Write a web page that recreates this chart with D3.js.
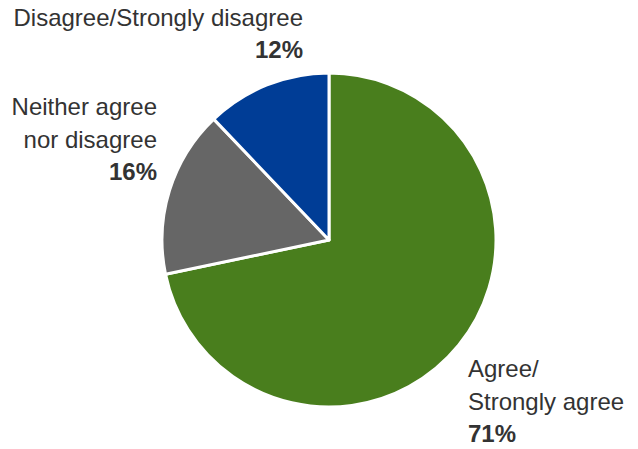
<!DOCTYPE html>
<html>
<head>
<meta charset="utf-8">
<script src="https://cdn.jsdelivr.net/npm/d3@7"></script>
<style>
  html, body { margin: 0; padding: 0; background: #fff; }
  svg { display: block; }
  text { font-family: "Liberation Sans", Arial, Helvetica, sans-serif; fill: #333; }
</style>
</head>
<body>
<svg id="chart" width="638" height="449"></svg>
<script>
// Survey response shares (percent)
const categories = ["Agree/Strongly agree", "Neither agree nor disagree", "Disagree/Strongly disagree"];
const values = [71, 16, 12];
const colors = ["#497e1d", "#666666", "#003d96"];
// Label lines per slice
const labelLines = [["Agree/", "Strongly agree"], ["Neither agree", "nor disagree"], ["Disagree/Strongly disagree"]];
const valueLabels = ["71%", "16%", "12%"];

const width = 638, height = 449;
const cx = 329, cy = 240, radius = 167;

const svg = d3.select("#chart");
const data = categories.map((c, i) => ({ category: c, value: values[i], color: colors[i], lines: labelLines[i], label: valueLabels[i] }));

const pie = d3.pie().sort(null).value(d => d.value);
const arc = d3.arc().innerRadius(0).outerRadius(radius);
const arcs = pie(data);

const g = svg.append("g").attr("transform", `translate(${cx},${cy})`);
g.selectAll("path")
  .data(arcs)
  .join("path")
  .attr("d", arc)
  .attr("fill", d => d.data.color)
  .attr("stroke", "#fff")
  .attr("stroke-width", 3)
  .attr("stroke-linejoin", "round");

// Label placement: anchor and first baseline for each slice
const labelPos = [
  { x: 468, y: 377, anchor: "start", lh: 32.5 },
  { x: 157, y: 115, anchor: "end", lh: 32.5 },
  { x: 303, y: 26, anchor: "end", lh: 32 }
];

arcs.forEach((a, i) => {
  const p = labelPos[i];
  const t = svg.append("text")
    .attr("x", p.x).attr("y", p.y)
    .attr("text-anchor", p.anchor)
    .style("font-size", "24px");
  a.data.lines.forEach((line, j) => {
    t.append("tspan").attr("x", p.x).attr("y", p.y + j * p.lh).text(line);
  });
  t.append("tspan")
    .attr("x", p.x)
    .attr("y", p.y + a.data.lines.length * p.lh)
    .style("font-weight", "bold")
    .text(a.data.label);
});
</script>
</body>
</html>
